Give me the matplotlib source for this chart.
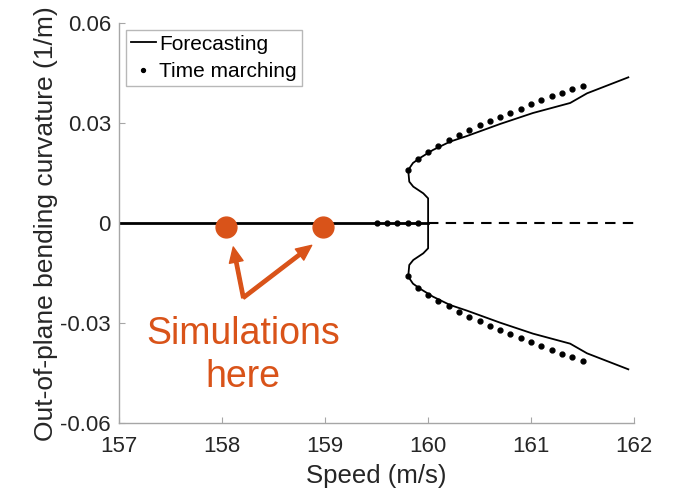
import matplotlib.pyplot as plt

plt.rcParams['font.family'] = ['Liberation Sans', 'DejaVu Sans']

# Forecasting: upper branch of the bifurcated curvature (lower branch is its mirror)
fc_speed = [160.0, 160.0, 159.953, 159.856, 159.817, 159.811, 159.807, 159.853,
            159.921, 160.047, 160.213, 160.378, 160.699, 161.019, 161.38,
            161.544, 161.945]
fc_curv = [0.0, 0.0075, 0.009, 0.011, 0.0125, 0.0145, 0.016, 0.0181,
           0.0196, 0.022, 0.0245, 0.0262, 0.0298, 0.0331, 0.0361,
           0.039, 0.0438]

# stable (solid) and unstable (dashed) trivial solution
stable_speed = [157.0, 160.0]
unstable_speed = [160.0, 162.0]

# Time marching results
tm_zero_speed = [159.5, 159.6, 159.7, 159.8, 159.9]
tm_speed = [159.8, 159.9, 160.0, 160.1, 160.2, 160.3, 160.4, 160.5, 160.6,
            160.7, 160.8, 160.9, 161.0, 161.1, 161.2, 161.3, 161.4, 161.5]
tm_curv_up = [0.0159, 0.0193, 0.0215, 0.0232, 0.0249, 0.0265, 0.0281, 0.0295,
              0.0307, 0.0319, 0.0331, 0.0344, 0.0357, 0.0369, 0.0381, 0.0392,
              0.0402, 0.0413]
tm_curv_down = [-0.0159, -0.0193, -0.0215, -0.0232, -0.0249, -0.0265, -0.0281,
                -0.0294, -0.0307, -0.0319, -0.0332, -0.0344, -0.0357, -0.0369,
                -0.0381, -0.0392, -0.0402, -0.0412]

# where the simulations were run
sim_speed = [158.04, 158.98]
sim_curv = [-0.001, -0.001]

orange = '#D95319'
gray = '#a6a6a6'
txt = '#262626'

fig = plt.figure(figsize=(6.79, 4.92), dpi=100)
ax = fig.add_axes([0.1757, 0.1396, 0.758, 0.813])

ax.plot(stable_speed, [0, 0], color='k', lw=2)
ax.plot(unstable_speed, [0, 0], color='k', lw=1.5, ls=(0, (5, 3.5)))
ax.plot(fc_speed, fc_curv, color='k', lw=1.3, label='Forecasting')
ax.plot(fc_speed, [-c for c in fc_curv], color='k', lw=1.3)

ax.plot(tm_speed, tm_curv_up, 'k.', ms=7, ls='none', label='Time marching')
ax.plot(tm_speed, tm_curv_down, 'k.', ms=7, ls='none')
ax.plot(tm_zero_speed, [0] * len(tm_zero_speed), 'k.', ms=7, ls='none')

ax.plot(sim_speed, sim_curv, 'o', color=orange, ms=15, zorder=5)

arrow_tail = (158.205, -0.0223)
for tip in [(158.107, -0.0071), (158.869, -0.0066)]:
    ax.annotate('', xy=tip, xytext=arrow_tail,
                arrowprops=dict(width=2.4, headwidth=10, headlength=11,
                                color=orange, shrink=0))

# baseline of the last line ("here")
ax.text(158.204, -0.049, 'Simulations\nhere', color=orange, fontsize=27,
        ha='center', va='baseline', linespacing=1.25)

ax.set_xlim(157, 162)
ax.set_ylim(-0.06, 0.06)
ax.set_xticks([157, 158, 159, 160, 161, 162])
ax.set_yticks([-0.06, -0.03, 0, 0.03, 0.06])
ax.set_yticklabels(['-0.06', '-0.03', '0', '0.03', '0.06'])

for s in ['top', 'right']:
    ax.spines[s].set_visible(False)
for s in ['left', 'bottom']:
    ax.spines[s].set_color(gray)
    ax.spines[s].set_linewidth(1)
ax.tick_params(direction='in', length=4, color=gray, labelsize=16,
               labelcolor=txt)
ax.tick_params(axis='x', pad=9)
ax.tick_params(axis='y', pad=6)

ax.set_xlabel('Speed (m/s)', fontsize=18.5, color=txt, labelpad=5)
ax.set_ylabel('Out-of-plane bending curvature (1/m)', fontsize=19,
              color=txt, labelpad=2)

leg = ax.legend(loc='upper left', fontsize=15, frameon=True, fancybox=False,
                edgecolor=gray, handlelength=1.2, handletextpad=0.15,
                borderpad=0.25, labelspacing=0.4, borderaxespad=0.3,
                markerscale=0.8)
leg.get_frame().set_linewidth(1)

fig.savefig('out.png', dpi=100)
